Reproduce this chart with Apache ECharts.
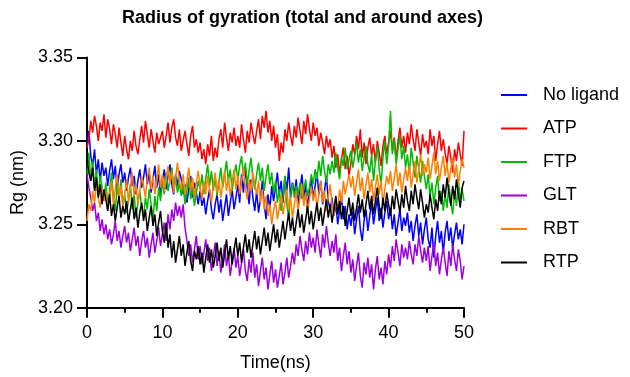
<!DOCTYPE html>
<html>
<head>
<meta charset="utf-8">
<script src="https://cdn.jsdelivr.net/npm/echarts@6/dist/echarts.min.js"></script>
<style>html,body{margin:0;padding:0;background:#fff}#c{width:630px;height:377px}</style>
</head>
<body>
<div id="c"></div>
<script>
const seriesNames = ['No ligand', 'ATP', 'FTP', 'GLT', 'RBT', 'RTP'];
const seriesColors = ['#0000ff', '#ff0000', '#00bb00', '#a000e0', '#ff8000', '#000000'];
const timeStep = 0.25; // ns between samples
const xTicks = [0, 10, 20, 30, 40, 50];
const yTicks = [3.20, 3.25, 3.30, 3.35];

const noLigand = [
3.300,3.306,3.291,3.285,3.295,3.280,3.289,3.276,3.287,3.279,
3.284,3.273,3.282,3.289,3.277,3.285,3.271,3.280,3.286,3.275,
3.281,3.270,3.278,3.284,3.273,3.279,3.268,3.276,3.283,3.272,
3.278,3.286,3.274,3.281,3.269,3.277,3.285,3.272,3.280,3.267,
3.276,3.283,3.271,3.279,3.286,3.274,3.268,3.280,3.273,3.282,
3.277,3.268,3.274,3.263,3.271,3.279,3.266,3.275,3.269,3.262,
3.270,3.261,3.266,3.256,3.264,3.271,3.259,3.253,3.262,3.268,
3.257,3.265,3.252,3.260,3.268,3.255,3.263,3.271,3.259,3.266,
3.274,3.263,3.280,3.269,3.284,3.272,3.262,3.277,3.266,3.258,
3.270,3.257,3.265,3.276,3.262,3.253,3.268,3.259,3.273,3.264,
3.272,3.281,3.268,3.276,3.263,3.279,3.270,3.284,3.266,3.275,
3.268,3.277,3.262,3.271,3.280,3.266,3.274,3.259,3.270,3.278,
3.265,3.273,3.281,3.268,3.276,3.262,3.270,3.279,3.264,3.258,
3.266,3.255,3.262,3.250,3.258,3.267,3.253,3.261,3.247,3.256,
3.249,3.258,3.244,3.253,3.261,3.247,3.240,3.252,3.259,3.246,
3.255,3.263,3.250,3.258,3.266,3.252,3.260,3.248,3.257,3.264,
3.253,3.260,3.247,3.256,3.243,3.251,3.259,3.246,3.254,3.249,
3.257,3.245,3.252,3.240,3.249,3.256,3.243,3.251,3.238,3.247,
3.254,3.241,3.236,3.248,3.230,3.243,3.252,3.239,3.246,3.233,
3.245,3.252,3.240,3.248,3.236,3.244,3.251,3.241,3.247,3.238,
3.250];

const atp = [
3.296,3.301,3.312,3.305,3.315,3.309,3.300,3.311,3.306,3.316,
3.302,3.313,3.307,3.298,3.310,3.304,3.296,3.308,3.299,3.291,
3.303,3.295,3.289,3.300,3.294,3.306,3.297,3.292,3.301,3.309,
3.299,3.312,3.304,3.296,3.307,3.300,3.293,3.305,3.298,3.302,
3.306,3.296,3.303,3.311,3.299,3.308,3.313,3.302,3.297,3.307,
3.294,3.300,3.306,3.298,3.291,3.303,3.309,3.296,3.301,3.293,
3.299,3.289,3.295,3.286,3.298,3.291,3.303,3.288,3.296,3.290,
3.301,3.307,3.296,3.311,3.302,3.294,3.305,3.299,3.308,3.297,
3.303,3.296,3.310,3.301,3.293,3.306,3.299,3.311,3.304,3.298,
3.306,3.313,3.301,3.315,3.308,3.318,3.305,3.312,3.300,3.309,
3.296,3.304,3.288,3.299,3.293,3.307,3.300,3.311,3.303,3.297,
3.309,3.302,3.314,3.306,3.298,3.312,3.304,3.316,3.307,3.300,
3.311,3.303,3.308,3.297,3.305,3.299,3.292,3.303,3.296,3.301,
3.290,3.297,3.284,3.292,3.280,3.289,3.296,3.283,3.291,3.279,
3.287,3.298,3.292,3.303,3.295,3.307,3.290,3.299,3.286,3.296,
3.302,3.291,3.298,3.287,3.300,3.293,3.285,3.297,3.303,3.292,
3.299,3.306,3.294,3.302,3.289,3.300,3.308,3.296,3.303,3.293,
3.305,3.298,3.310,3.301,3.294,3.307,3.299,3.291,3.304,3.296,
3.300,3.292,3.307,3.297,3.303,3.288,3.298,3.306,3.294,3.301,
3.293,3.286,3.297,3.290,3.281,3.295,3.288,3.299,3.292,3.285,
3.306];

const ftp = [
3.280,3.293,3.276,3.288,3.271,3.283,3.267,3.279,3.272,3.264,
3.275,3.262,3.270,3.281,3.266,3.258,3.273,3.265,3.277,3.261,
3.268,3.257,3.264,3.274,3.259,3.268,3.254,3.263,3.270,3.260,
3.255,3.266,3.259,3.271,3.262,3.253,3.267,3.258,3.272,3.264,
3.276,3.268,3.281,3.270,3.277,3.284,3.272,3.279,3.269,3.275,
3.267,3.274,3.262,3.270,3.278,3.265,3.272,3.261,3.269,3.276,
3.271,3.280,3.268,3.277,3.286,3.273,3.282,3.270,3.278,3.267,
3.275,3.284,3.272,3.280,3.288,3.276,3.283,3.270,3.279,3.286,
3.277,3.285,3.291,3.279,3.287,3.274,3.282,3.290,3.278,3.271,
3.280,3.287,3.276,3.284,3.270,3.279,3.286,3.274,3.281,3.269,
3.276,3.263,3.271,3.258,3.266,3.279,3.262,3.254,3.268,3.274,
3.266,3.273,3.268,3.275,3.265,3.271,3.277,3.267,3.272,3.280,
3.274,3.283,3.277,3.288,3.279,3.291,3.282,3.275,3.286,3.280,
3.288,3.281,3.293,3.284,3.277,3.290,3.285,3.296,3.283,3.289,
3.294,3.284,3.291,3.299,3.287,3.295,3.282,3.290,3.297,3.286,
3.281,3.292,3.276,3.288,3.297,3.283,3.274,3.290,3.300,3.286,
3.297,3.318,3.292,3.301,3.286,3.295,3.303,3.289,3.297,3.284,
3.292,3.280,3.296,3.287,3.278,3.291,3.283,3.275,3.288,3.279,
3.271,3.280,3.266,3.275,3.262,3.272,3.279,3.264,3.270,3.258,
3.268,3.260,3.274,3.263,3.256,3.270,3.261,3.276,3.265,3.271,
3.264];

const glt = [
3.280,3.272,3.266,3.258,3.263,3.252,3.257,3.246,3.253,3.244,
3.250,3.241,3.247,3.238,3.244,3.252,3.240,3.246,3.236,3.243,
3.249,3.239,3.245,3.234,3.241,3.248,3.237,3.243,3.231,3.240,
3.246,3.236,3.242,3.230,3.238,3.245,3.233,3.240,3.248,3.237,
3.244,3.251,3.240,3.256,3.247,3.259,3.252,3.263,3.255,3.261,
3.254,3.262,3.248,3.240,3.231,3.238,3.227,3.235,3.243,3.229,
3.237,3.226,3.233,3.241,3.228,3.236,3.222,3.231,3.239,3.225,
3.234,3.221,3.229,3.238,3.225,3.232,3.219,3.228,3.236,3.224,
3.231,3.219,3.227,3.235,3.222,3.216,3.229,3.221,3.233,3.218,
3.226,3.213,3.222,3.230,3.217,3.224,3.211,3.220,3.228,3.215,
3.223,3.212,3.219,3.227,3.214,3.221,3.230,3.218,3.225,3.233,
3.226,3.238,3.231,3.243,3.235,3.228,3.240,3.232,3.245,3.236,
3.242,3.233,3.247,3.238,3.230,3.244,3.236,3.249,3.239,3.231,
3.240,3.233,3.244,3.228,3.236,3.222,3.231,3.239,3.226,3.234,
3.221,3.229,3.216,3.225,3.233,3.219,3.212,3.227,3.220,3.230,
3.218,3.226,3.211,3.223,3.231,3.217,3.224,3.214,3.228,3.220,
3.232,3.224,3.237,3.228,3.241,3.233,3.225,3.238,3.230,3.236,
3.229,3.240,3.232,3.226,3.238,3.231,3.243,3.234,3.227,3.236,
3.228,3.237,3.222,3.231,3.239,3.225,3.233,3.220,3.229,3.236,
3.227,3.219,3.234,3.225,3.238,3.229,3.222,3.235,3.228,3.217,
3.225];

const rbt = [
3.252,3.262,3.258,3.270,3.263,3.275,3.266,3.260,3.272,3.264,
3.270,3.259,3.266,3.276,3.262,3.271,3.280,3.265,3.273,3.261,
3.268,3.277,3.263,3.272,3.281,3.267,3.274,3.262,3.270,3.279,
3.273,3.266,3.278,3.284,3.271,3.279,3.268,3.276,3.286,3.272,
3.280,3.270,3.277,3.285,3.274,3.282,3.269,3.278,3.287,3.275,
3.271,3.280,3.268,3.276,3.284,3.270,3.278,3.266,3.275,3.282,
3.272,3.265,3.276,3.268,3.279,3.271,3.263,3.274,3.281,3.269,
3.277,3.266,3.274,3.282,3.270,3.278,3.267,3.275,3.283,3.271,
3.279,3.268,3.276,3.284,3.272,3.265,3.277,3.270,3.281,3.274,
3.268,3.276,3.263,3.271,3.259,3.267,3.255,3.262,3.250,3.258,
3.264,3.253,3.260,3.268,3.256,3.263,3.271,3.259,3.266,3.254,
3.262,3.270,3.258,3.266,3.274,3.261,3.269,3.257,3.265,3.272,
3.264,3.271,3.260,3.268,3.276,3.263,3.270,3.258,3.267,3.274,
3.262,3.255,3.266,3.258,3.271,3.263,3.276,3.268,3.274,3.280,
3.272,3.279,3.267,3.275,3.283,3.270,3.278,3.265,3.274,3.281,
3.269,3.277,3.264,3.272,3.280,3.268,3.276,3.262,3.271,3.279,
3.274,3.282,3.270,3.278,3.286,3.273,3.281,3.269,3.277,3.284,
3.276,3.285,3.272,3.280,3.288,3.275,3.283,3.292,3.279,3.286,
3.281,3.290,3.277,3.285,3.293,3.280,3.288,3.276,3.284,3.291,
3.279,3.287,3.275,3.283,3.290,3.278,3.286,3.273,3.282,3.289,
3.284];

const rtp = [
3.290,3.281,3.276,3.284,3.270,3.278,3.266,3.274,3.262,3.271,
3.265,3.258,3.268,3.255,3.262,3.252,3.260,3.267,3.254,3.261,
3.256,3.264,3.251,3.259,3.266,3.253,3.260,3.248,3.257,3.263,
3.252,3.259,3.246,3.254,3.261,3.249,3.256,3.243,3.251,3.258,
3.246,3.239,3.251,3.236,3.244,3.230,3.240,3.227,3.235,3.243,
3.231,3.238,3.225,3.233,3.240,3.228,3.222,3.234,3.229,3.237,
3.226,3.233,3.221,3.230,3.238,3.227,3.235,3.224,3.231,3.239,
3.228,3.236,3.224,3.232,3.241,3.229,3.237,3.226,3.234,3.242,
3.231,3.239,3.227,3.236,3.244,3.233,3.241,3.230,3.238,3.246,
3.235,3.243,3.232,3.240,3.248,3.237,3.245,3.234,3.242,3.250,
3.239,3.247,3.236,3.244,3.252,3.241,3.249,3.257,3.246,3.254,
3.243,3.251,3.259,3.248,3.256,3.245,3.253,3.261,3.250,3.258,
3.247,3.255,3.263,3.252,3.260,3.249,3.257,3.265,3.254,3.262,
3.251,3.259,3.267,3.256,3.264,3.253,3.261,3.249,3.258,3.266,
3.255,3.263,3.252,3.260,3.268,3.257,3.265,3.254,3.262,3.270,
3.259,3.267,3.256,3.264,3.272,3.261,3.253,3.266,3.258,3.269,
3.262,3.255,3.267,3.259,3.271,3.264,3.257,3.268,3.260,3.273,
3.264,3.258,3.270,3.262,3.274,3.266,3.259,3.271,3.263,3.254,
3.262,3.257,3.268,3.260,3.253,3.265,3.258,3.270,3.262,3.274,
3.266,3.278,3.269,3.261,3.273,3.265,3.277,3.268,3.260,3.272,
3.276];

const allValues = [noLigand, atp, ftp, glt, rbt, rtp];

const FONT = 'Liberation Sans, Arial, Helvetica, sans-serif';
const chart = echarts.init(document.getElementById('c'), null, {renderer: 'canvas'});

const series = allValues.map((vals, k) => ({
  name: seriesNames[k],
  type: 'line',
  data: vals.map((v, i) => [i * timeStep, v]),
  showSymbol: false,
  symbol: 'none',
  lineStyle: {width: 1.5, color: seriesColors[k]},
  itemStyle: {color: seriesColors[k]},
  animation: false,
  z: 2 + k
}));

chart.setOption({
  animation: false,
  backgroundColor: '#ffffff',
  title: {
    text: 'Radius of gyration (total and around axes)',
    left: 122, top: 9, padding: 0,
    textStyle: {fontFamily: FONT, fontSize: 18, fontWeight: 'bold', color: '#000'}
  },
  legend: {
    orient: 'vertical',
    left: 501, top: 85, padding: 0,
    itemWidth: 26, itemHeight: 2,
    itemGap: 13.5,
    icon: 'rect',
    data: seriesNames,
    textStyle: {fontFamily: FONT, fontSize: 18, color: '#000', lineHeight: 20, padding: [0, 0, 0, 11]}
  },
  grid: {left: 87, right: 166, top: 57.5, bottom: 69.3, containLabel: false},
  xAxis: {
    type: 'value', min: xTicks[0], max: xTicks[xTicks.length - 1], interval: 10,
    name: 'Time(ns)', nameLocation: 'middle', nameGap: 46,
    nameTextStyle: {fontFamily: FONT, fontSize: 18, color: '#000'},
    axisLine: {show: true, onZero: false, lineStyle: {color: '#000', width: 2}},
    axisTick: {show: true, length: 10, lineStyle: {color: '#000', width: 2}},
    minorTick: {show: true, splitNumber: 2, length: 5, lineStyle: {color: '#000', width: 2}},
    splitLine: {show: false},
    axisLabel: {fontFamily: FONT, fontSize: 18, color: '#000', margin: 16}
  },
  yAxis: {
    type: 'value', min: yTicks[0], max: yTicks[yTicks.length - 1], interval: 0.05,
    name: 'Rg (nm)', nameLocation: 'middle', nameGap: 56, nameRotate: 90,
    nameTextStyle: {fontFamily: FONT, fontSize: 18, color: '#000'},
    axisLine: {show: true, onZero: false, lineStyle: {color: '#000', width: 2}},
    axisTick: {show: true, length: 10, lineStyle: {color: '#000', width: 2}},
    splitLine: {show: false},
    axisLabel: {fontFamily: FONT, fontSize: 18, color: '#000', margin: 14,
      formatter: v => v.toFixed(2)}
  },
  series: series
});
</script>
</body>
</html>
